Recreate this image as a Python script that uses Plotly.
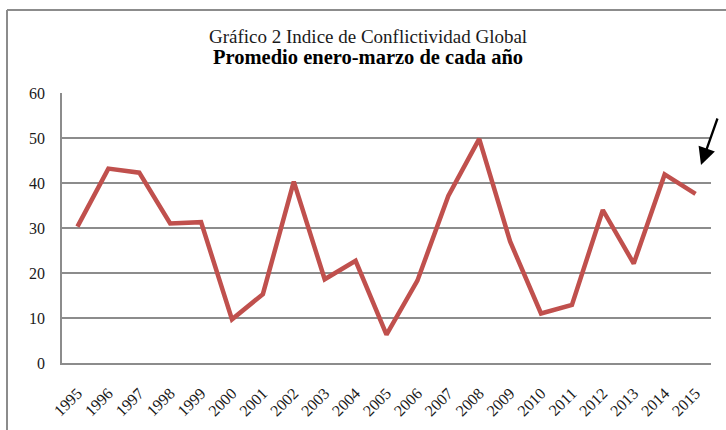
import plotly.graph_objects as go

years = [str(y) for y in range(1995, 2016)]
values = [30.3, 43.2, 42.3, 31.0, 31.3, 9.7, 15.3, 40.3, 18.6, 22.7, 6.3,
          18.3, 37.1, 49.8, 27.0, 11.0, 12.9, 34.0, 22.1, 41.9, 37.6]
y_ticks = [0, 10, 20, 30, 40, 50, 60]
title_line1 = "Gráfico 2 Indice de Conflictividad Global"
title_line2 = "<b>Promedio enero-marzo de cada año</b>"

W, H = 726, 430
L, R, T, B = 62, 15, 93, 67
pw, ph = W - L - R, H - T - B

def px(x):
    return (x - L) / pw

def py(y):
    return (H - B - y) / ph

font_family = "Liberation Serif, Times New Roman, serif"

fig = go.Figure()
fig.add_trace(go.Scatter(
    x=years, y=values, mode="lines",
    line=dict(color="#C0504D", width=4.5),
    hoverinfo="x+y", showlegend=False,
))

fig.update_layout(
    width=W, height=H,
    margin=dict(l=L, r=R, t=T, b=B),
    paper_bgcolor="white", plot_bgcolor="white",
    font=dict(family=font_family, size=16, color="#1a1a1a"),
    xaxis=dict(
        type="category", range=[-0.5, 20.5], tickangle=-45,
        showgrid=False, showline=True, linecolor="#8c8c8c", linewidth=1.5,
        ticks="", tickfont=dict(size=16, family=font_family),
        ticklabelstandoff=13,
    ),
    yaxis=dict(
        range=[0, 60], tickvals=y_ticks, showgrid=True, gridcolor="#8c8c8c",
        gridwidth=1.5, showline=True, linecolor="#8c8c8c", linewidth=1.5,
        ticks="", ticklen=0, zeroline=False, tickfont=dict(size=16, family=font_family),
        ticklabelstandoff=12,
    ),
    shapes=[
        dict(type="line", xref="paper", yref="paper", x0=px(7), x1=px(7), y0=py(430), y1=py(10),
             line=dict(color="#8c8c8c", width=2)),
        dict(type="line", xref="paper", yref="paper", x0=px(7), x1=px(726), y0=py(10), y1=py(10),
             line=dict(color="#8c8c8c", width=2)),
    ],
    annotations=[
        dict(text=title_line1, xref="paper", yref="paper", x=px(368), y=py(37),
             showarrow=False, font=dict(size=19, family=font_family, color="#1a1a1a"),
             xanchor="center", yanchor="middle"),
        dict(text=title_line2, xref="paper", yref="paper", x=px(368), y=py(57),
             showarrow=False, font=dict(size=20.5, family=font_family, color="#000000"),
             xanchor="center", yanchor="middle"),
        dict(text="", xref="paper", yref="paper", x=px(701), y=py(165),
             ax=17, ay=-48, showarrow=True, arrowhead=2, arrowsize=1.5,
             arrowwidth=2.3, arrowcolor="#000000"),
    ],
)

fig.write_html("out.html", post_script="document.body.style.margin='0';",
               config={"displayModeBar": False})
